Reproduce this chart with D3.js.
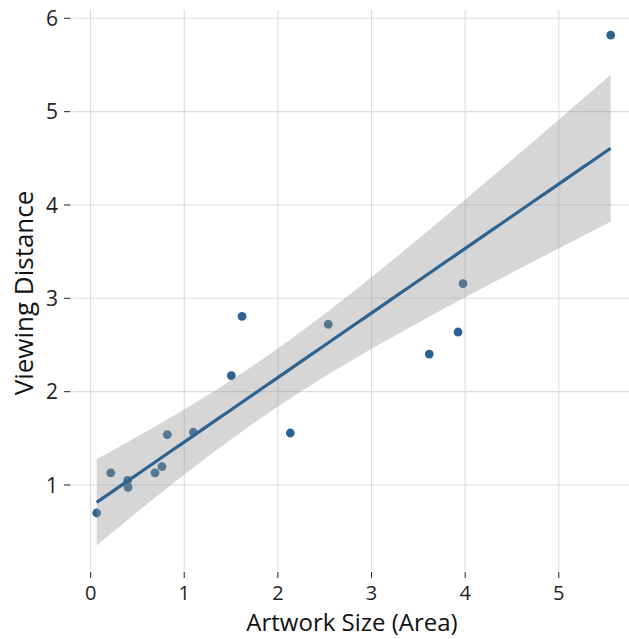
<!DOCTYPE html>
<html><head><meta charset="utf-8">
<script src="https://cdn.jsdelivr.net/npm/d3@7"></script>
<style>html,body{margin:0;padding:0;background:#fff;}svg{display:block;}</style>
</head><body>
<svg id="chart" width="629" height="639"></svg>
<script>
const artworkSize = [0.065, 0.215, 0.396, 0.40, 0.688, 0.762, 0.819, 1.097, 1.503, 1.617, 2.133, 2.538, 3.617, 3.924, 3.977, 5.554];
const viewingDistance = [0.70, 1.13, 1.05, 0.975, 1.13, 1.196, 1.54, 1.565, 2.171, 2.807, 1.557, 2.722, 2.403, 2.639, 3.157, 5.82];
const xTicks = [0, 1, 2, 3, 4, 5];
const yTicks = [1, 2, 3, 4, 5, 6];
const xTitle = "Artwork Size (Area)";
const yTitle = "Viewing Distance";
const tCrit = 2.1448; // t(0.975, df = 14)

const font = "'Open Sans', 'DejaVu Sans', sans-serif";
const blue = "#2c6390";
const panel = {left: 73, right: 629, top: 10, bottom: 570};

const svg = d3.select("#chart");
const x = d3.scaleLinear().domain([0, 5]).range([90.6, 558.8]);
const y = d3.scaleLinear().domain([1, 6]).range([485, 18.3]);

// linear model
const n = artworkSize.length;
const xbar = d3.mean(artworkSize), ybar = d3.mean(viewingDistance);
let sxx = 0, sxy = 0;
for (let i = 0; i < n; i++) { sxx += (artworkSize[i]-xbar)**2; sxy += (artworkSize[i]-xbar)*(viewingDistance[i]-ybar); }
const b1 = sxy / sxx, b0 = ybar - b1 * xbar;
let sse = 0;
for (let i = 0; i < n; i++) sse += (viewingDistance[i] - (b0 + b1*artworkSize[i]))**2;
const s = Math.sqrt(sse / (n - 2));
const xmin = d3.min(artworkSize), xmax = d3.max(artworkSize);
const fit = d3.range(80).map(i => {
  const xv = xmin + (xmax - xmin) * i / 79;
  const yh = b0 + b1 * xv;
  const se = s * Math.sqrt(1/n + (xv - xbar)**2 / sxx);
  return {x: xv, y: yh, lo: yh - tCrit*se, hi: yh + tCrit*se};
});

// grid
const g = svg.append("g");
g.selectAll(".gy").data(yTicks).join("line")
  .attr("x1", panel.left).attr("x2", panel.right)
  .attr("y1", d => y(d)).attr("y2", d => y(d))
  .attr("stroke", "#dcdcdc").attr("stroke-width", 1.1);
g.selectAll(".gx").data(xTicks).join("line")
  .attr("y1", panel.top).attr("y2", panel.bottom)
  .attr("x1", d => x(d)).attr("x2", d => x(d))
  .attr("stroke", "#dcdcdc").attr("stroke-width", 1.1);

// points
svg.append("g").selectAll("circle")
  .data(artworkSize.map((d, i) => [d, viewingDistance[i]]))
  .join("circle")
  .attr("cx", d => x(d[0])).attr("cy", d => y(d[1])).attr("r", 4.4)
  .attr("fill", blue);

// confidence band
svg.append("path").datum(fit)
  .attr("d", d3.area().x(d => x(d.x)).y0(d => y(d.lo)).y1(d => y(d.hi)))
  .attr("fill", "#999999").attr("fill-opacity", 0.4);

// fit line
svg.append("path").datum(fit)
  .attr("d", d3.line().x(d => x(d.x)).y(d => y(d.y)))
  .attr("fill", "none").attr("stroke", blue).attr("stroke-width", 3.2);

// y axis ticks & labels
const ya = svg.append("g");
ya.selectAll("line").data(yTicks).join("line")
  .attr("x1", 64).attr("x2", 70.5).attr("y1", d => y(d)).attr("y2", d => y(d))
  .attr("stroke", "#333").attr("stroke-width", 1.1);
ya.selectAll("text").data(yTicks).join("text")
  .attr("x", 58).attr("y", d => y(d)).attr("dy", "0.36em")
  .attr("text-anchor", "end").attr("font-family", font).attr("font-size", 21)
  .attr("fill", "#222").text(d => d);

// x axis ticks & labels
const xa = svg.append("g");
xa.selectAll("line").data(xTicks).join("line")
  .attr("y1", 572).attr("y2", 578).attr("x1", d => x(d)).attr("x2", d => x(d))
  .attr("stroke", "#333").attr("stroke-width", 1.1);
xa.selectAll("text").data(xTicks).join("text")
  .attr("x", d => x(d)).attr("y", 600)
  .attr("text-anchor", "middle").attr("font-family", font).attr("font-size", 20)
  .attr("fill", "#222").text(d => d);

// titles
svg.append("text").attr("x", 352).attr("y", 631)
  .attr("text-anchor", "middle").attr("font-family", font).attr("font-size", 24)
  .attr("fill", "#111").text(xTitle);
svg.append("text").attr("transform", "translate(33,293) rotate(-90)")
  .attr("text-anchor", "middle").attr("font-family", font).attr("font-size", 26)
  .attr("fill", "#111").text(yTitle);
</script>
</body></html>
